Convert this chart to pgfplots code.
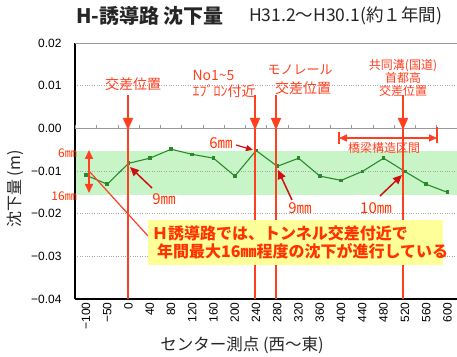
\documentclass[border=0pt]{standalone}
\usepackage{fontspec}
\setmainfont{Liberation Sans}
\newfontfamily\jp{Noto Sans CJK JP}
\usepackage{pgfplots}
\pgfplotsset{compat=1.18}
\usetikzlibrary{arrows.meta}
\definecolor{lred}{HTML}{FF4020}
\definecolor{tred}{HTML}{FF3300}
\definecolor{dred}{HTML}{D01010}
\definecolor{lgreen}{HTML}{2A8A2A}
\definecolor{bandc}{HTML}{C8F5C8}
\definecolor{ybox}{HTML}{FFFF99}
\begin{document}
\begin{tikzpicture}
\useasboundingbox (0,0) rectangle (457pt,356pt);
\begin{scope}[shift={(0pt,356pt)}, x=1pt, y=-1pt]
\fill[bandc] (75,151.4) rectangle (458,195.3);
\end{scope}
\begin{axis}[
  at={(75pt,57pt)}, anchor=south west,
  scale only axis, width=383pt, height=256pt,
  xmin=-0.52, xmax=17.5, ymin=-0.04, ymax=0.02,
  axis x line*=bottom, axis y line*=left,
  axis line style={black, line width=1.2pt, -},
  xtick={0,...,17},
  xticklabels={−100,−50,0,40,80,120,160,200,240,280,320,360,400,440,480,520,560,600},
  ytick={-0.04,-0.03,-0.02,-0.01,0,0.01,0.02},
  yticklabels={−0.04,−0.03,−0.02,−0.01,0.00,0.01,0.02},
  scaled y ticks=false,
  major tick length=0pt,
  tick label style={font=\fontsize{12}{12}\selectfont},
  x tick label style={rotate=90, anchor=east},
  yticklabel style={xshift=-10pt},
  ymajorgrids, grid style={gray!70, dotted, line width=0.7pt},
]
\addplot[lgreen, line width=1.1pt, mark=square*, mark size=1.3pt] coordinates {
(0,-0.0110) (1,-0.0131) (2,-0.0082) (3,-0.0070) (4,-0.0049) (5,-0.0061)
(6,-0.0070) (7,-0.0112) (8,-0.0052) (9,-0.0089) (10,-0.0070) (11,-0.0112)
(12,-0.0122) (13,-0.0101) (14,-0.0070) (15,-0.0101) (16,-0.0131) (17,-0.0150)};
\end{axis}
\begin{scope}[shift={(0pt,356pt)}, x=1pt, y=-1pt]
% zero line, top line, ticks
\draw[gray!80, line width=0.8pt] (75,128.3) -- (458,128.3);
\draw[gray!80, line width=0.8pt] (75,43) -- (460,43);
\foreach \k in {0,...,17} {
  \draw[gray!80, line width=0.7pt] (75.4+\k*21.254,128.3) -- ++(0,-3);
}
% vertical markers
\foreach \x in {128,255,276,403} {
  \draw[lred, line width=1.6pt] (\x,129) -- (\x,299);
  \draw[lred, line width=1.6pt, -{Triangle[width=10pt,length=12pt]}] (\x,95) -- (\x,130);
}
\node[lred, font=\jp\fontsize{14}{14}\selectfont] at (133,84) {交差位置};
\node[lred, anchor=west, font=\jp\fontsize{14}{14}\selectfont] at (189,75) {No1\textasciitilde5};
\node[lred, anchor=west, font=\jp\fontsize{14}{14}\selectfont] at (189,91) {ｴﾌﾞﾛﾝ付近};
\node[lred, font=\jp\fontsize{13}{13}\selectfont] at (300,70) {モノレール};
\node[lred, font=\jp\fontsize{14}{14}\selectfont] at (303,88) {交差位置};
\node[lred, font=\jp\fontsize{12}{12}\selectfont] at (403,66) {共同溝(国道)};
\node[lred, font=\jp\fontsize{12}{12}\selectfont] at (403,78) {首都高};
\node[lred, font=\jp\fontsize{12}{12}\selectfont] at (403,91) {交差位置};
% bridge section
\draw[lred, line width=1.3pt, {Triangle[width=7pt,length=8pt]}-{Triangle[width=7pt,length=8pt]}] (339,138) -- (437,138);
\draw[lred, line width=1.2pt] (339,132) -- (339,144);
\draw[lred, line width=1.2pt] (437,127) -- (437,143);
\node[lred, font=\jp\fontsize{12}{12}\selectfont] at (384,148) {橋梁構造区間};
% mm annotations
\node[tred, font=\jp\fontsize{15}{15}\selectfont] at (221,143) {6㎜};
\draw[dred, line width=1.2pt, -{Triangle[width=6pt,length=7pt]}] (236,145) -- (253,150);
\node[tred, font=\jp\fontsize{15}{15}\selectfont] at (164,199) {9㎜};
\draw[dred, line width=1.5pt, -{Triangle[width=8pt,length=9pt]}] (152,188) -- (130,167);
\node[tred, font=\jp\fontsize{15}{15}\selectfont] at (300,208) {9㎜};
\draw[dred, line width=1.5pt, -{Triangle[width=8pt,length=9pt]}] (292,200) -- (278,170);
\node[tred, font=\jp\fontsize{15}{15}\selectfont] at (376,208) {10㎜};
\draw[dred, line width=1.5pt, -{Triangle[width=8pt,length=9pt]}] (380,196) -- (402,175);
% left range arrow
\draw[lred, line width=1.5pt, {Triangle[width=8pt,length=9pt]}-{Triangle[width=8pt,length=9pt]}] (89,150) -- (89,193);
\node[tred, anchor=east, inner sep=0pt, font=\jp\fontsize{12}{12}\selectfont] at (77,153) {6㎜};
\node[tred, anchor=east, inner sep=0pt, font=\jp\fontsize{12}{12}\selectfont] at (77,196) {16㎜};
\draw[lred, line width=1.2pt] (89,171) -- (148,236);
% yellow box
\fill[ybox] (148,220) rectangle (443,265);
\node[tred, anchor=west, inner sep=0pt, font=\jp\bfseries\fontsize{16}{16}\selectfont] at (152,233) {Ｈ誘導路では、トンネル交差付近で};
\node[tred, anchor=west, inner sep=0pt, font=\jp\bfseries\fontsize{16}{16}\selectfont] at (157,251) {年間最大16㎜程度の沈下が進行している};
% titles
\node[anchor=west, inner sep=0pt, text=black!85, font=\jp\bfseries\fontsize{20}{20}\selectfont] at (76,16) {H-誘導路 沈下量};
\node[anchor=west, inner sep=0pt, text=black!85, font=\jp\fontsize{17.5}{17.5}\selectfont] at (249,16) {H31.2～H30.1(約１年間)};
\node[text=black!85, font=\jp\fontsize{16.5}{16.5}\selectfont] at (242,345) {センター測点 (西～東)};
\node[rotate=90, text=black!85, font=\jp\fontsize{16}{16}\selectfont] at (15,189) {沈下量 (m)};
\end{scope}
\end{tikzpicture}
\end{document}
